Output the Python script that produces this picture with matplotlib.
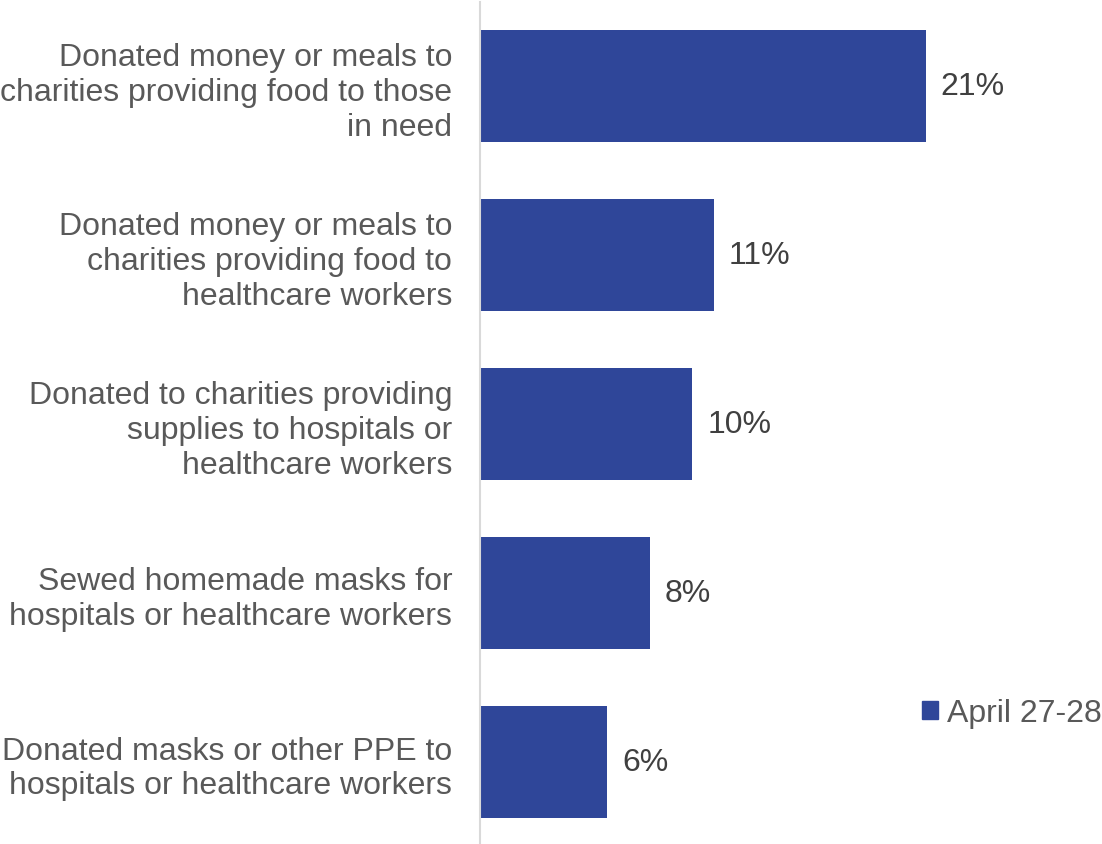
import matplotlib
matplotlib.use("Agg")
from matplotlib import pyplot as plt
from matplotlib.patches import Patch

plt.rcParams['font.family'] = ['Liberation Sans', 'DejaVu Sans']

labels = [
    "Donated money or meals to\ncharities providing food to those\nin need",
    "Donated money or meals to\ncharities providing food to\nhealthcare workers",
    "Donated to charities providing\nsupplies to hospitals or\nhealthcare workers",
    "Sewed homemade masks for\nhospitals or healthcare workers",
    "Donated masks or other PPE to\nhospitals or healthcare workers",
]
values = [21, 11, 10, 8, 6]
series_name = "April 27-28"

bar_color = '#2F4699'
text_color = '#595959'

fig = plt.figure(figsize=(11.02, 8.45), dpi=100)
ax = fig.add_axes([480 / 1102, -2.5 / 845, 622 / 1102, 1])

ypos = list(range(len(values)))
ax.barh(ypos, values, height=0.665, color=bar_color)
ax.set_ylim(len(values) - 0.5, -0.5)
ax.set_xlim(0, 29.3)

for y, v in zip(ypos, values):
    ax.text(v + 0.7, y, f"{v}%", va='center', ha='left', fontsize=23, color='#404040')

ax.set_yticks(ypos)
ax.set_yticklabels(labels, fontsize=23, color=text_color, linespacing=1.21)
ax.tick_params(axis='y', length=0, pad=20)
ax.set_xticks([])
for s in ['top', 'right', 'bottom']:
    ax.spines[s].set_visible(False)
ax.spines['left'].set_color('#D9D9D9')
ax.spines['left'].set_linewidth(1.5)

ax.legend(handles=[Patch(color=bar_color, label=series_name)], loc='center left',
          bbox_to_anchor=(429 / 622, 1 - 712 / 845), frameon=False, fontsize=23,
          handlelength=0.5, handleheight=0.5, handletextpad=0.3, borderaxespad=0,
          labelcolor=text_color)

fig.savefig("out.png", dpi=100)
